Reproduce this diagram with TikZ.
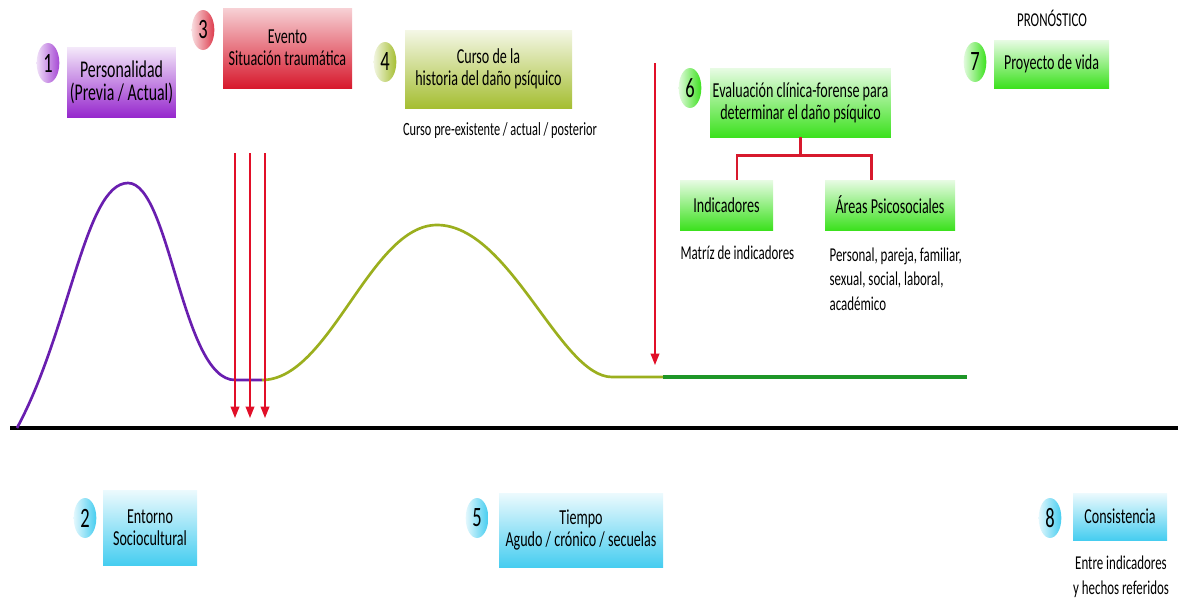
\documentclass[tikz,border=0pt]{standalone}
\usepackage{fontspec}
\setmainfont{Carlito}[FakeStretch=0.66]
\usepackage{tikz}
\usetikzlibrary{positioning,calc,shapes.geometric,arrows.meta}
\definecolor{mypurple}{RGB}{150, 40, 205}
\definecolor{myred}{RGB}{215, 25, 45}
\definecolor{myolive}{RGB}{165, 190, 50}
\definecolor{mygreen}{RGB}{60, 225, 30}
\definecolor{mycyan}{RGB}{70, 205, 240}
\definecolor{curvepurple}{RGB}{105, 30, 175}
\definecolor{curveolive}{RGB}{155, 175, 30}
\definecolor{curvegreen}{RGB}{30, 150, 40}
\definecolor{arrowred}{RGB}{225, 15, 40}
\newcommand*\boxfont{\fontsize{16}{16.5}\selectfont}
\newcommand*\bigboxfont{\fontsize{18}{17}\selectfont}
\newcommand*\numfont{\fontsize{21}{21}\selectfont}
\newcommand*\notefont{\fontsize{14.7}{18.5}\selectfont}
\tikzstyle{box}=[rectangle,align=center,inner sep=2pt,font=\boxfont]
\tikzstyle{num}=[ellipse,minimum width=17pt,minimum height=30pt,inner sep=0pt,font=\numfont]
\tikzstyle{note}=[align=center,inner sep=1pt,font=\notefont]
\tikzstyle{arr}=[-{Triangle[width=6.5pt,length=8.5pt]},arrowred,line width=1.1pt]
\tikzstyle{link}=[myred,line width=1.9pt]

\begin{document}
\begin{tikzpicture}[x=0.75pt,y=-0.75pt]
  \useasboundingbox (0,0) rectangle (1178,603);
  % top row
  \node (B1) [box, font=\bigboxfont, top color=mypurple!10, bottom color=mypurple, minimum width=80.25pt, minimum height=52.5pt] at (121.5,82) {Personalidad\\(Previa / Actual)};
  \node (B3) [box, top color=myred!20, bottom color=myred, minimum width=96.75pt, minimum height=60pt] at (287.5,48) {Evento\\Situación traumática};
  \node (B4) [box, top color=myolive!12, bottom color=myolive, minimum width=125.25pt, minimum height=58.5pt] at (488.5,69) {Curso de la\\historia del daño psíquico};
  \node (B6) [box, top color=mygreen!12, bottom color=mygreen, minimum width=131.25pt, minimum height=51.75pt] at (800.5,102.5) {Evaluación clínica-forense para\\determinar el daño psíquico};
  \node (B7) [box, top color=mygreen!12, bottom color=mygreen, minimum width=86.25pt, minimum height=36pt] at (1051.5,64) {Proyecto de vida};
  \node (IN) [box, top color=mygreen!12, bottom color=mygreen, minimum width=69.75pt, minimum height=37.5pt] at (726.5,205) {Indicadores};
  \node (AP) [box, top color=mygreen!12, bottom color=mygreen, minimum width=97.5pt, minimum height=37.5pt] at (890,205) {Áreas Psicosociales};
  % bottom row
  \node (B2) [box, top color=mycyan!10, bottom color=mycyan, minimum width=70.5pt, minimum height=56.25pt] at (150,527.5) {Entorno\\Sociocultural};
  \node (B5) [box, top color=mycyan!10, bottom color=mycyan, minimum width=123pt, minimum height=55.5pt] at (581,530) {Tiempo\\Agudo / crónico / secuelas};
  \node (B8) [box, top color=mycyan!10, bottom color=mycyan, minimum width=70.5pt, minimum height=35.25pt] at (1120,516.5) {Consistencia};
  % numbers
  \node (N1) [num, left color=mypurple!15, right color=mypurple!85] at (48,63) {1};
  \node (N2) [num, left color=mycyan!15, right color=mycyan] at (85,518) {2};
  \node (N3) [num, left color=myred!15, right color=myred!85] at (203,30) {3};
  \node (N4) [num, left color=myolive!15, right color=myolive] at (385,62) {4};
  \node (N5) [num, left color=mycyan!15, right color=mycyan] at (477,518) {5};
  \node (N6) [num, left color=mygreen!15, right color=mygreen] at (690,88) {6};
  \node (N7) [num, left color=mygreen!15, right color=mygreen] at (975,62) {7};
  \node (N8) [num, left color=mycyan!15, right color=mycyan] at (1050,518) {8};
  % notes
  \node (C4) [note, font=\fontsize{14}{15}\selectfont] at (500,131) {Curso pre-existente / actual / posterior};
  \node (P7) [note] at (1052,18) {PRONÓSTICO};
  \node (MI) [note, anchor=west] at (679,253) {Matríz de indicadores};
  \node (AL) [note, align=left, anchor=north west] at (828,246) {Personal, pareja, familiar,\\sexual, social, laboral,\\académico};
  \node (EH) [note] at (1121,577) {Entre indicadores\\y hechos referidos};
  % tree under 6
  \draw[link] (B6.south) -- ++(0,18) coordinate (J);
  \draw[link] ([xshift=8pt]IN.north) |- (J) -| ([xshift=-14pt]AP.north);
  % axis and curves
  \coordinate (O) at (10,428);
  \coordinate (E) at (1178,428);
  \draw[line width=2.3pt] (O) -- (E);
  \draw[curvepurple, line width=2pt] (17,428) .. controls (70,330) and (85,183) .. (128,183)
      .. controls (170,183) and (182,380) .. (235,380) -- (262,380);
  \draw[curveolive, line width=2pt] (262,380) .. controls (330,380) and (370,225) .. (437,225)
      .. controls (510,225) and (560,377) .. (612,377) -- (663,377);
  \draw[curvegreen, line width=2.4pt] (663,377) -- (967,377);
  % event arrows
  \foreach \x in {235,250,265} {
    \coordinate (T\x) at (\x,153);
    \coordinate (H\x) at (\x,418);
    \draw[arr] (T\x) -- (H\x);
  }
  \coordinate (T6) at (655,63);
  \coordinate (H6) at (655,365);
  \draw[arr] (T6) -- (H6);
\end{tikzpicture}
\end{document}
